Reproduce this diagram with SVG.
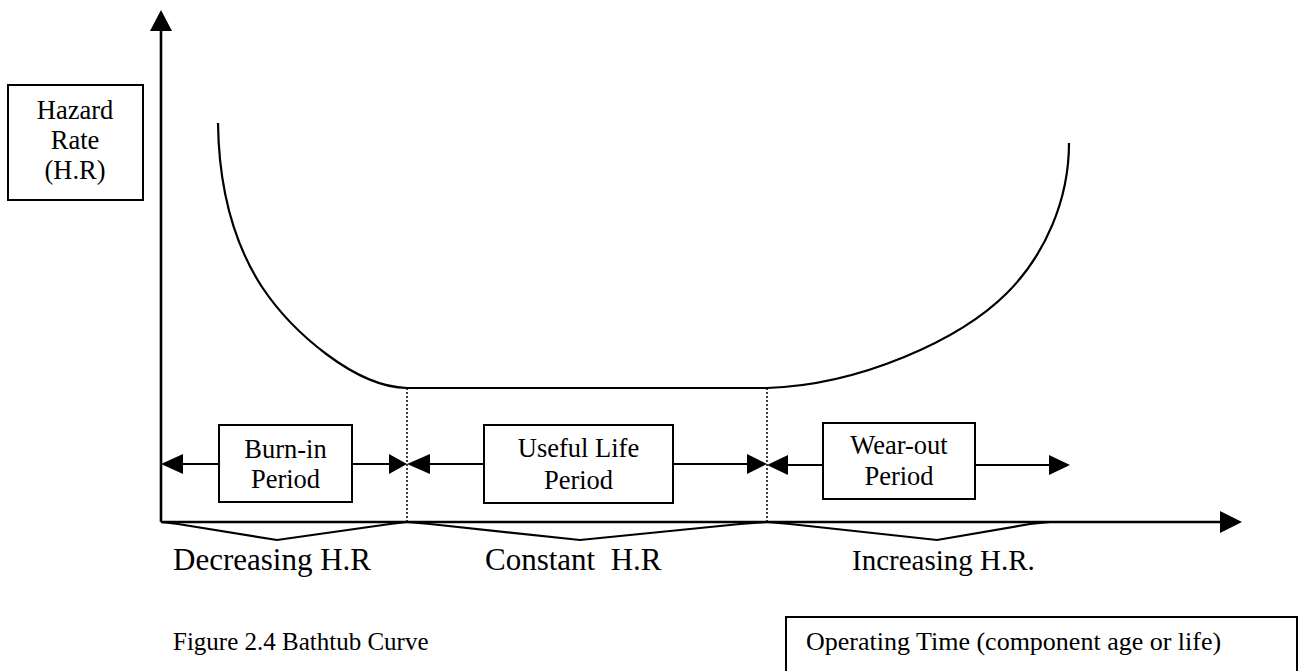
<svg xmlns="http://www.w3.org/2000/svg" width="1301" height="671" viewBox="0 0 1301 671">
<style>
text{font-family:"Liberation Serif","Times New Roman",serif;fill:#000}
.box{fill:#fff;stroke:#000;stroke-width:2}
.bt{font-size:26.5px;text-anchor:middle}
.lbl{font-size:31px}
.ln{stroke:#000;stroke-width:2.2;fill:none}
.ax{stroke:#000;stroke-width:2.6;fill:none}
.dot{stroke:#000;stroke-width:1.5;stroke-dasharray:2,2;fill:none}
.ah{fill:#000}
</style>
<rect width="1301" height="671" fill="#fff"/>
<g id="axes">
<line class="ax" x1="161" y1="522" x2="161" y2="28"/>
<polygon class="ah" points="161,10 150,31 172,31"/>
<line class="ax" x1="161" y1="522" x2="1224" y2="522"/>
<polygon class="ah" points="1242,522 1220,511 1220,533"/>
</g>
<g id="curve">
<path class="ln" d="M218,123 C219,200 238,250 262,287 C292,332 355,387 407,388 L767,388 C860,385 960,340 1007,293 C1045,255 1069,200 1069,143"/>
</g>
<g id="dividers">
<line class="dot" x1="407" y1="388" x2="407" y2="522"/>
<line class="dot" x1="767" y1="388" x2="767" y2="522"/>
</g>
<g id="braces">
<polyline class="ln" points="161,522 178,524 277,540 390,524 407,522"/>
<polyline class="ln" points="407,522 430,524 580,540 740,524 767,522"/>
<polyline class="ln" points="767,522 790,524 937,540 1030,524 1050,522"/>
</g>
<g id="connectors">
<line class="ln" x1="180" y1="464" x2="219" y2="464"/>
<polygon class="ah" points="161,464 183,454 183,474"/>
<line class="ln" x1="352" y1="464" x2="392" y2="464"/>
<polygon class="ah" points="407,464 389,454 389,474"/>
<line class="ln" x1="427" y1="464" x2="484" y2="464"/>
<polygon class="ah" points="407,464 430,454 430,474"/>
<line class="ln" x1="673" y1="464" x2="750" y2="464"/>
<polygon class="ah" points="767,464 747,454 747,474"/>
<line class="ln" x1="785" y1="465" x2="823" y2="465"/>
<polygon class="ah" points="767,465 788,455 788,475"/>
<line class="ln" x1="975" y1="465" x2="1052" y2="465"/>
<polygon class="ah" points="1070,465 1049,455 1049,475"/>
</g>
<g id="hazard">
<rect class="box" x="8" y="85" width="135" height="115"/>
<text class="bt" x="75" y="119">Hazard</text>
<text class="bt" x="75" y="149">Rate</text>
<text class="bt" x="75" y="179">(H.R)</text>
</g>
<g id="burnin">
<rect class="box" x="219" y="425" width="133" height="77"/>
<text class="bt" x="285.5" y="458">Burn-in</text>
<text class="bt" x="285.5" y="488">Period</text>
</g>
<g id="useful">
<rect class="box" x="484" y="425" width="189" height="78"/>
<text class="bt" x="578.5" y="457">Useful Life</text>
<text class="bt" x="578.5" y="489">Period</text>
</g>
<g id="wearout">
<rect class="box" x="823" y="423" width="152" height="76"/>
<text class="bt" x="899" y="454">Wear-out</text>
<text class="bt" x="899" y="485">Period</text>
</g>
<g id="labels">
<text class="lbl" x="173" y="570">Decreasing H.R</text>
<text class="lbl" x="485" y="570" xml:space="preserve">Constant  H.R</text>
<text class="lbl" x="852" y="570" style="font-size:29px">Increasing H.R.</text>
<text class="lbl" x="173" y="650" style="font-size:25px">Figure 2.4 Bathtub Curve</text>
</g>
<g id="operating">
<rect class="box" x="786" y="617" width="511" height="60"/>
<text x="806" y="650" style="font-size:26px">Operating Time (component age or life)</text>
</g>
</svg>
